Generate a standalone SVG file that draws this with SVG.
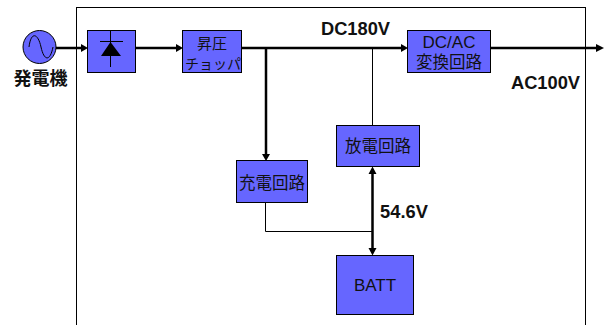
<svg xmlns="http://www.w3.org/2000/svg" width="605" height="325" viewBox="0 0 605 325">
<style>
text{font-family:"Liberation Sans","Noto Sans CJK JP",sans-serif;text-anchor:middle;fill:#111}
.b{fill:#6666ff;stroke:#000;stroke-width:1}
.l{font-size:16.500px}
.t{font-size:18.300px;font-weight:bold}
.w{fill:none;stroke:#000;stroke-width:2.500}
.n{fill:none;stroke:#000;stroke-width:1}
.h{fill:#000}
</style>
<rect x="76.500" y="7.500" width="509" height="330" fill="none" stroke="#000" stroke-width="1"/>
<g id="connectors">
<path class="w" d="M56 48H83M134 48H177M241 48H403M266 48V155M489 48H597M372.500 172V249"/>
<path class="n" d="M372.500 48V126M265.500 202V231.500H372"/>
<path class="h" d="M88 48L81 44V52ZM183 48L176 44V52ZM408 48L401 44V52ZM604 48L596 44V52ZM266 161L262 154H270ZM372.500 166.500L368.500 174H376.500ZM372.500 255.500L368.500 248H376.500Z"/>
</g>
<g id="generator">
<circle class="b" cx="39.500" cy="47" r="16.500"/>
<path class="n" d="M29 47C31 31 38 33 41 47S50 62 53 47"/>
<text x="40.500" y="85" style="font-size:18px;font-weight:bold">発電機</text>
</g>
<g id="rectifier">
<rect class="b" x="87.500" y="30.500" width="48" height="42"/>
<path class="n" d="M110.500 30V67M100 41.500H123"/>
<path class="h" d="M110.500 42L101 56H121Z"/>
</g>
<g id="boost">
<rect class="b" x="182.500" y="30.500" width="59" height="42"/>
<text x="212" y="49" style="font-size:15px">昇圧</text>
<text x="213" y="69" style="font-size:14px">チョッパ</text>
</g>
<g id="inverter">
<rect class="b" x="407.500" y="30.500" width="83" height="42"/>
<text x="449" y="48" style="font-size:17px">DC/AC</text>
<text class="l" x="449" y="68">変換回路</text>
</g>
<g id="discharge">
<rect class="b" x="336.500" y="125.500" width="83" height="41"/>
<text class="l" x="378" y="152">放電回路</text>
</g>
<g id="charge">
<rect class="b" x="236.500" y="160.500" width="71" height="42"/>
<text class="l" x="272" y="189">充電回路</text>
</g>
<g id="batt">
<rect class="b" x="336.500" y="255.500" width="77" height="59"/>
<text x="375" y="291" style="font-size:17px">BATT</text>
</g>
<text class="t" x="355.500" y="35">DC180V</text>
<text class="t" x="545.500" y="89">AC100V</text>
<text class="t" x="404" y="218">54.6V</text>
</svg>
